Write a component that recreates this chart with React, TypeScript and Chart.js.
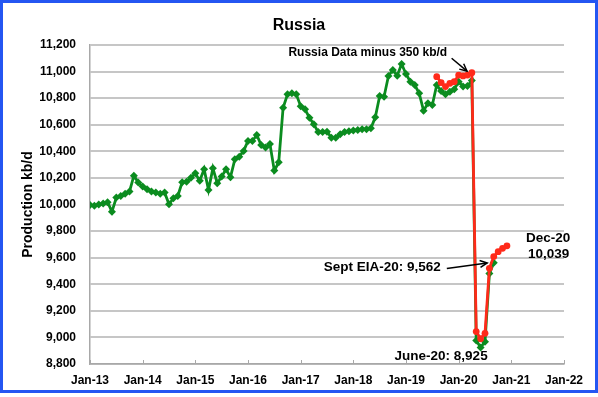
import React, { useEffect, useRef } from 'react';
import { Chart, registerables } from 'chart.js';

Chart.register(...registerables);

// ---- data ----
const xTickLabels = ['Jan-13', 'Jan-14', 'Jan-15', 'Jan-16', 'Jan-17', 'Jan-18', 'Jan-19', 'Jan-20', 'Jan-21', 'Jan-22'];
const monthsPerTick = 12;

// EIA series (green), monthly from Jan-13 to Sep-20
const greenStart = 0; // Jan-13
const greenValues = [
  9997, 9990, 10000, 10007, 10017, 9946, 10052, 10064, 10080, 10097, 10217, 10165,
  10135, 10115, 10097, 10090, 10080, 10090, 10002, 10047, 10064, 10167, 10172, 10202,
  10235, 10178, 10265, 10110, 10272, 10160, 10210, 10265, 10205, 10340, 10360, 10403,
  10478, 10478, 10523, 10448, 10428, 10455, 10255, 10318, 10728, 10829, 10837, 10829,
  10740, 10716, 10653, 10604, 10545, 10545, 10548, 10503, 10503, 10528, 10545, 10552,
  10556, 10561, 10566, 10566, 10574, 10656, 10816, 10811, 10967, 11012, 10969, 11057,
  10982, 10924, 10899, 10837, 10706, 10762, 10749, 10899, 10854, 10829, 10849, 10867,
  10924, 10887, 10892, 10932, 8976, 8925, 8968, 9480, 9562,
];

// Russia data minus 350 kb/d (red), monthly from Aug-19 to Dec-20
const redStart = 79; // Aug-19
const redValues = [
  10962, 10917, 10887, 10912, 10924,
  10974, 10967, 10974, 10992, 9044, 8990, 9031, 9520, 9608, 9645, 9670, 9689,
];

const yMin = 8800;
const yMax = 11200;
const yStep = 200;

const titleText = 'Russia';
const yAxisTitle = 'Production kb/d';

// annotations in data coordinates (month index, kb/d)
const noteTexts = [
  { text: 'Russia Data minus 350 kb/d', x: 63.3, y: 11142, size: 12 },
  { text: 'Sept EIA-20: 9,562', x: 66.6, y: 9530, size: 13.5 },
  { text: 'Dec-20', x: 104.4, y: 9749, size: 13.5 },
  { text: '10,039', x: 104.5, y: 9628, size: 13.5 },
  { text: 'June-20: 8,925', x: 80.0, y: 8861, size: 13.5 },
];
const noteArrows = [
  { x1: 82.4, y1: 11100, x2: 85.9, y2: 11004 },
  { x1: 81.3, y1: 9518, x2: 90.5, y2: 9560 },
];

const FONT = '"Liberation Sans", Arial, Helvetica, sans-serif';
const GREEN = '#0b8c1f';
const RED = '#ff2a1a';
const GRID = '#c6c6c6';
const AXIS = '#a8a8a8';
const FRAME = '#2456f2';

const decorPlugin = {
  id: 'decor',
  beforeDraw(chart: any) {
    const { ctx, width, height } = chart;
    ctx.save();
    ctx.fillStyle = '#ffffff';
    ctx.fillRect(0, 0, width, height);
    ctx.restore();
  },
  afterDraw(chart: any) {
    const { ctx, chartArea, scales, width } = chart;
    const xs = scales.x;
    const ys = scales.y;
    ctx.save();
    // title
    ctx.fillStyle = '#000';
    ctx.textAlign = 'center';
    ctx.textBaseline = 'middle';
    ctx.font = `bold 16px ${FONT}`;
    ctx.fillText(titleText, width / 2, 26);
    // inside tick marks on x axis
    ctx.strokeStyle = AXIS;
    ctx.lineWidth = 1;
    for (let i = 0; i < xTickLabels.length; i++) {
      const px = Math.round(xs.getPixelForValue(i * monthsPerTick)) + 0.5;
      ctx.beginPath();
      ctx.moveTo(px, chartArea.bottom);
      ctx.lineTo(px, chartArea.bottom - 4);
      ctx.stroke();
    }
    // arrows
    ctx.strokeStyle = '#000';
    ctx.lineWidth = 1.5;
    for (const a of noteArrows) {
      const x1 = xs.getPixelForValue(a.x1);
      const y1 = ys.getPixelForValue(a.y1);
      const x2 = xs.getPixelForValue(a.x2);
      const y2 = ys.getPixelForValue(a.y2);
      ctx.beginPath();
      ctx.moveTo(x1, y1);
      ctx.lineTo(x2, y2);
      ctx.stroke();
      const ang = Math.atan2(y2 - y1, x2 - x1);
      const L = 8;
      ctx.beginPath();
      ctx.moveTo(x2 - L * Math.cos(ang - 0.45), y2 - L * Math.sin(ang - 0.45));
      ctx.lineTo(x2, y2);
      ctx.lineTo(x2 - L * Math.cos(ang + 0.45), y2 - L * Math.sin(ang + 0.45));
      ctx.stroke();
    }
    // texts
    for (const n of noteTexts) {
      ctx.font = `bold ${n.size}px ${FONT}`;
      ctx.fillText(n.text, xs.getPixelForValue(n.x), ys.getPixelForValue(n.y));
    }
    // blue frame
    ctx.strokeStyle = FRAME;
    ctx.lineWidth = 3;
    ctx.strokeRect(1.5, 1.5, 595, 390);
    ctx.restore();
  },
};

export default function App() {
  const ref = useRef<HTMLCanvasElement>(null);
  useEffect(() => {
    const green = greenValues.map((v, i) => ({ x: greenStart + i, y: v }));
    const red = redValues.map((v, i) => ({ x: redStart + i, y: v }));
    const tickFont = { family: FONT, size: 12, weight: 'bold' as const };
    const chart = new Chart(ref.current as HTMLCanvasElement, {
      type: 'line',
      data: {
        datasets: [
          {
            label: 'Russia Data minus 350 kb/d',
            data: red,
            borderColor: RED,
            backgroundColor: RED,
            borderWidth: 2.8,
            pointStyle: 'circle',
            pointRadius: 3.4,
            pointBorderWidth: 0,
            tension: 0,
          },
          {
            label: 'EIA',
            data: green,
            borderColor: GREEN,
            backgroundColor: GREEN,
            borderWidth: 2.8,
            pointStyle: 'rectRot',
            pointRadius: 4,
            pointBorderWidth: 0,
            tension: 0,
          },
        ],
      },
      options: {
        responsive: false,
        animation: false,
        layout: { padding: { left: 0, right: 34, top: 45, bottom: 0 } },
        plugins: {
          legend: { display: false },
          tooltip: { enabled: false },
          title: { display: false },
        },
        scales: {
          x: {
            type: 'linear',
            min: 0,
            max: (xTickLabels.length - 1) * monthsPerTick,
            afterFit: (s: any) => { s.height = 33; },
            afterBuildTicks: (s: any) => {
              s.ticks = xTickLabels.map((_, i) => ({ value: i * monthsPerTick }));
            },
            ticks: {
              callback: (v: any) => xTickLabels[Math.round(Number(v) / monthsPerTick)],
              color: '#000',
              font: tickFont,
              padding: 9,
              maxRotation: 0,
              autoSkip: false,
            },
            grid: { display: false, drawTicks: false },
            border: { display: true, color: AXIS, width: 1.5 },
          },
          y: {
            min: yMin,
            max: yMax,
            afterFit: (s: any) => { s.width = 90; },
            ticks: {
              stepSize: yStep,
              callback: (v: any) => Number(v).toLocaleString('en-US'),
              color: '#000',
              font: tickFont,
              padding: 14,
            },
            grid: { color: GRID, lineWidth: 2, drawTicks: false },
            border: { display: true, color: AXIS, width: 1.5 },
            title: {
              display: true,
              text: yAxisTitle,
              color: '#000',
              font: { family: FONT, size: 14, weight: 'bold' },
              padding: { top: 19.6, bottom: 0 },
            },
          },
        },
      },
      plugins: [decorPlugin],
    });
    return () => chart.destroy();
  }, []);
  return (
    <div style={{ position: 'absolute', left: 0, top: 0, width: 598, height: 397, background: '#fff' }}>
      <canvas ref={ref} width={598} height={397} style={{ display: 'block', width: 598, height: 397 }} />
    </div>
  );
}
